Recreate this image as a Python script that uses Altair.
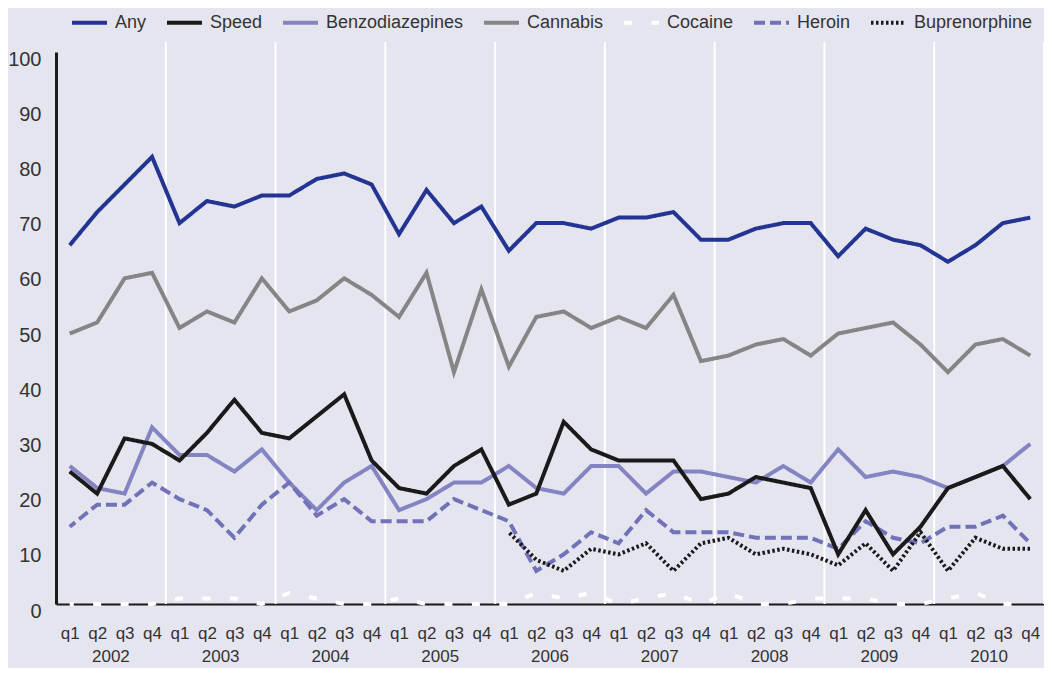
import altair as alt
import pandas as pd

quarters = ["q1", "q2", "q3", "q4"]
years = ["2002", "2003", "2004", "2005", "2006", "2007", "2008", "2009", "2010"]

series_names = ["Any", "Speed", "Benzodiazepines", "Cannabis", "Cocaine", "Heroin", "Buprenorphine"]

any_ = [65, 71, 76, 81, 69, 73, 72, 74, 74, 77, 78, 76, 67, 75, 69, 72, 64, 69, 69, 68,
        70, 70, 71, 66, 66, 68, 69, 69, 63, 68, 66, 65, 62, 65, 69, 70]
speed = [24, 20, 30, 29, 26, 31, 37, 31, 30, 34, 38, 26, 21, 20, 25, 28, 18, 20, 33, 28,
         26, 26, 26, 19, 20, 23, 22, 21, 9, 17, 9, 14, 21, 23, 25, 19]
benzo = [25, 21, 20, 32, 27, 27, 24, 28, 22, 17, 22, 25, 17, 19, 22, 22, 25, 21, 20, 25,
         25, 20, 24, 24, 23, 22, 25, 22, 28, 23, 24, 23, 21, 23, 25, 29]
cannabis = [49, 51, 59, 60, 50, 53, 51, 59, 53, 55, 59, 56, 52, 60, 42, 57, 43, 52, 53, 50,
            52, 50, 56, 44, 45, 47, 48, 45, 49, 50, 51, 47, 42, 47, 48, 45]
cocaine = [0, 0, 0, 0, 1, 1, 1, 0, 2, 1, 0, 0, 1, 0, 0, 0, 0, 2, 1, 2,
           0, 1, 2, 0, 2, 0, 0, 1, 1, 1, 0, 0, 1, 2, 0, 0]
heroin = [14, 18, 18, 22, 19, 17, 12, 18, 22, 16, 19, 15, 15, 15, 19, 17, 15, 6, 9, 13,
          11, 17, 13, 13, 13, 12, 12, 12, 10, 15, 12, 11, 14, 14, 16, 11]
buprenorphine = [None] * 16 + [13, 8, 6, 10, 9, 11, 6, 11, 12, 9, 10, 9, 7, 11, 6, 13, 6, 12, 10, 10]

values_by_series = {
    "Any": any_, "Speed": speed, "Benzodiazepines": benzo, "Cannabis": cannabis,
    "Cocaine": cocaine, "Heroin": heroin, "Buprenorphine": buprenorphine,
}
# drawing order (bottom to top)
draw_order = ["Benzodiazepines", "Heroin", "Buprenorphine", "Cannabis", "Any", "Speed", "Cocaine"]

rows = []
for name in draw_order:
    for i, v in enumerate(values_by_series[name]):
        if v is not None:
            rows.append({"series": name, "t": i, "value": v})
df = pd.DataFrame(rows)

colors = ["#233492", "#1a1a1a", "#8484c2", "#858585", "#ffffff", "#7272b8", "#1a1a1a"]
dashes = [[1, 0], [1, 0], [1, 0], [1, 0], [8, 19.44], [11, 5], [2.5, 2.5]]
widths = [4, 4, 4, 4, 3.5, 4, 3.5]

W, H = 988, 552
FONT = "Liberation Sans"
TXT = "#333333"

xscale = alt.Scale(domain=[-0.5, 35.5], nice=False, zero=False)
xaxis = alt.Axis(values=list(range(36)), title=None, ticks=False, grid=False,
                 labelExpr="%s[datum.value %% 4]" % str(quarters),
                 labelFontSize=17, labelFont=FONT, labelColor=TXT, labelPadding=29,
                 labelOverlap=False, labelBaseline="middle", labelBound=False,
                 domainColor="#1a1a1a", domainWidth=2, labelFlush=False)

bounds = pd.DataFrame({"b": [3.5 + 4 * k for k in range(len(years))]})
rules = alt.Chart(bounds).mark_rule(color="white", strokeWidth=2).encode(
    x=alt.X("b:Q", scale=xscale, axis=xaxis),
    y=alt.value(-10),
    y2=alt.value(H),
)

lines = alt.Chart(df).mark_line(strokeDashOffset=4, strokeCap="butt").encode(
    x=alt.X("t:Q", scale=xscale, axis=xaxis),
    y=alt.Y("value:Q", scale=alt.Scale(domain=[0, 100], nice=False),
            axis=alt.Axis(values=list(range(0, 101, 10)), title=None, ticks=False, grid=False,
                          labelFontSize=20, labelFont=FONT, labelColor=TXT, labelPadding=15,
                          labelOffset=7, domainColor="#1a1a1a", domainWidth=3)),
    color=alt.Color("series:N", scale=alt.Scale(domain=series_names, range=colors),
                    legend=alt.Legend(title=None, orient="none", direction="horizontal",
                                      legendX=14, legendY=-49, symbolType="stroke",
                                      symbolSize=1225, symbolStrokeWidth=4,
                                      labelFont=FONT, labelFontSize=18, labelColor=TXT,
                                      labelOffset=6, columnPadding=12)),
    strokeDash=alt.StrokeDash("series:N", scale=alt.Scale(domain=series_names, range=dashes),
                              legend=None),
    strokeWidth=alt.StrokeWidth("series:N", scale=alt.Scale(domain=series_names, range=widths),
                                legend=None),
)

year_df = pd.DataFrame({"year": years, "pos": [1.5 + 4 * k for k in range(len(years))]})
year_text = alt.Chart(year_df).mark_text(font=FONT, fontSize=17, color=TXT, baseline="middle").encode(
    x=alt.X("pos:Q", scale=xscale, axis=xaxis),
    y=alt.value(H + 53),
    text="year:N",
)

chart = alt.layer(rules, lines, year_text).properties(
    width=W, height=H,
    autosize=alt.AutoSizeParams(type="none"),
    padding={"left": 48, "top": 44, "right": 0, "bottom": 64},
    background="#e5e5f0",
).configure_view(stroke=None)

chart.save("out.html", embed_options={"renderer": "svg", "actions": False})
